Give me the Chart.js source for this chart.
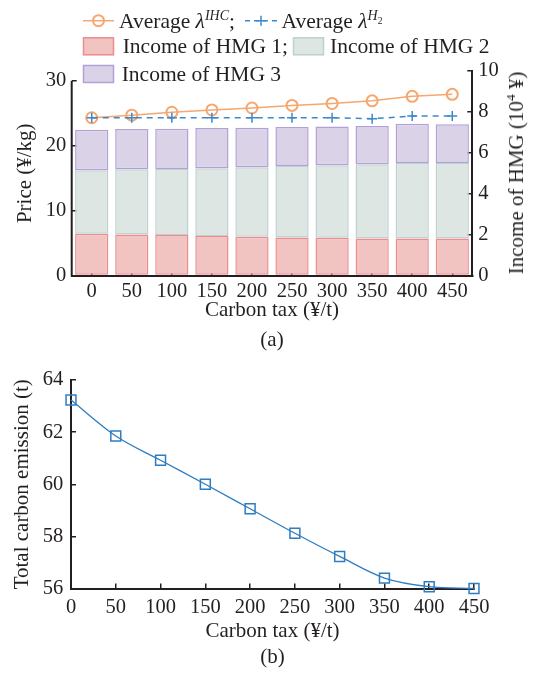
<!DOCTYPE html>
<html>
<head>
<meta charset="utf-8">
<script src="https://cdn.jsdelivr.net/npm/chart.js@4.4.1/dist/chart.umd.min.js"></script>
<style>
  body { margin: 0; background: #fff; font-family: "Liberation Serif", "Times New Roman", serif; color: #231f20; }
  #wrap { position: relative; width: 539px; height: 675px; overflow: hidden; }
  canvas { position: absolute; left: 0; }
  #priceChart { top: 0; }
  #emissionChart { top: 355px; }
  .lg { position: absolute; font-size: 21.5px; line-height: 24px; white-space: nowrap; }
  .lg sup { font-size: 14px; vertical-align: 8px; line-height: 0; }
  .lg sup sub { font-size: 9.5px; vertical-align: -4px; }
  #incomeTitle { position: absolute; left: 516px; top: 173px; font-size: 21px; line-height: 24px; white-space: nowrap;
    transform: translate(-50%, -50%) rotate(-90deg); }
  #incomeTitle sup { font-size: 13.5px; vertical-align: 8px; line-height: 0; }
  #legendMarks { position: absolute; left: 0; top: 0; }
</style>
</head>
<body>
<div id="wrap">
  <canvas id="priceChart" width="539" height="355"></canvas>
  <canvas id="emissionChart" width="539" height="320"></canvas>
  <svg id="legendMarks" width="539" height="90"></svg>
  <div class="lg" style="left:119px;top:8.7px">Average <i>λ</i><sup><i>IHC</i></sup>;</div>
  <div class="lg" style="left:281.6px;top:8.7px">Average <i>λ</i><sup><i>H</i><sub>2</sub></sup></div>
  <div class="lg" style="left:122.7px;top:34.3px">Income of HMG 1;</div>
  <div class="lg" style="left:330px;top:34.3px">Income of HMG 2</div>
  <div class="lg" style="left:121.7px;top:62px">Income of HMG 3</div>
  <div id="incomeTitle">Income of HMG (10<sup>4</sup> ¥)</div>
</div>
<script>
// carbon tax levels (¥/t)
const taxLevels = [0, 50, 100, 150, 200, 250, 300, 350, 400, 450];

// average prices (¥/kg)
const avgPriceIHC = [24.3, 24.7, 25.15, 25.5, 25.8, 26.2, 26.5, 26.9, 27.6, 27.9];
const avgPriceH2 = [24.3, 24.3, 24.3, 24.3, 24.3, 24.3, 24.3, 24.15, 24.55, 24.55];

// HMG incomes (10^4 ¥), stacked
const incomeHMG1 = [2.04, 2.01, 1.98, 1.93, 1.89, 1.86, 1.85, 1.81, 1.81, 1.81];
const incomeHMG2 = [3.11, 3.19, 3.23, 3.31, 3.40, 3.50, 3.54, 3.63, 3.69, 3.69];
const incomeHMG3 = [1.98, 1.96, 1.97, 1.97, 1.94, 1.90, 1.90, 1.87, 1.92, 1.89];

// total carbon emission (t)
const totalEmission = [63.23, 61.85, 60.92, 60.0, 59.06, 58.12, 57.23, 56.4, 56.07, 56.0];

const priceTicks = [0, 10, 20, 30];
const incomeTicks = [0, 2, 4, 6, 8, 10];
const emissionTicks = [56, 58, 60, 62, 64];

const ink = '#231f20';
const serif = 'Liberation Serif';
const orange = '#f6a66f';
const blue = '#3d88cc';
const hmgFill = ['#f2c4c1', '#dde6e3', '#dad3e8'];
const hmgEdge = ['#eb8d8f', '#bdd1d1', '#b3a0d6'];

const tickFont = { family: serif, size: 20.5 };
const titleFont = { family: serif, size: 21 };

function fixedTicks(values) {
  return scale => { scale.ticks = values.map(v => ({ value: v })); };
}

function inwardGrid() {
  return { drawOnChartArea: false, tickLength: -5, color: ink, lineWidth: 1.5 };
}

// legend swatches
const marks = document.getElementById('legendMarks');
marks.innerHTML = `
  <line x1="83" y1="20.7" x2="114" y2="20.7" stroke="${orange}" stroke-width="1.5"/>
  <circle cx="98.5" cy="20.7" r="5.5" fill="none" stroke="${orange}" stroke-width="2"/>
  <line x1="245" y1="20.7" x2="277" y2="20.7" stroke="${blue}" stroke-width="1.5" stroke-dasharray="5 4"/>
  <path d="M256 20.7h10M261 15.7v10" stroke="${blue}" stroke-width="1.5"/>
  <rect x="83.5" y="37.8" width="30" height="17" fill="${hmgFill[0]}" stroke="${hmgEdge[0]}" stroke-width="1.5"/>
  <rect x="293.5" y="37.8" width="30" height="17" fill="${hmgFill[1]}" stroke="${hmgEdge[1]}" stroke-width="1.5"/>
  <rect x="83.5" y="65.5" width="30" height="17" fill="${hmgFill[2]}" stroke="${hmgEdge[2]}" stroke-width="1.5"/>`;

// price axis line only runs up to the last labelled tick
const priceAxisLine = {
  id: 'priceAxisLine',
  afterDraw(chart) {
    const s = chart.scales.y;
    const ctx = chart.ctx;
    ctx.save();
    ctx.strokeStyle = ink;
    ctx.lineWidth = 2;
    ctx.beginPath();
    ctx.moveTo(s.right, s.getPixelForValue(0) + 1);
    ctx.lineTo(s.right, s.getPixelForValue(30));
    ctx.stroke();
    ctx.restore();
  }
};

function hmgBar(label, data, i) {
  return {
    type: 'bar', label, data, yAxisID: 'y1', order: 2,
    backgroundColor: hmgFill[i], borderColor: hmgEdge[i], borderWidth: 1.5,
    borderSkipped: false, barPercentage: 0.83, categoryPercentage: 1
  };
}

new Chart(document.getElementById('priceChart'), {
  data: {
    labels: taxLevels.map(String),
    datasets: [
      {
        type: 'line', label: 'Average λIHC', data: avgPriceIHC, yAxisID: 'y', order: 1,
        borderColor: orange, borderWidth: 1.5, pointStyle: 'circle', pointRadius: 5.5,
        pointBorderWidth: 2, pointBackgroundColor: 'rgba(0,0,0,0)', clip: false
      },
      {
        type: 'line', label: 'Average λH2', data: avgPriceH2, yAxisID: 'y', order: 0,
        borderColor: blue, borderWidth: 1.5, borderDash: [6, 5], pointStyle: 'cross',
        pointRadius: 5, pointBorderWidth: 1.5, clip: false
      },
      hmgBar('Income of HMG 1', incomeHMG1, 0),
      hmgBar('Income of HMG 2', incomeHMG2, 1),
      hmgBar('Income of HMG 3', incomeHMG3, 2)
    ]
  },
  options: {
    responsive: false,
    animation: false,
    layout: { padding: { top: 71 } },
    plugins: { legend: { display: false }, tooltip: { enabled: false } },
    scales: {
      x: {
        stacked: true,
        grid: { ...inwardGrid(), offset: false },
        border: { color: ink, width: 2 },
        ticks: { color: ink, font: tickFont, padding: 8.5, maxRotation: 0, autoSkip: false },
        title: {
          display: true, text: ['Carbon tax (¥/t)', '(a)'], color: ink,
          font: { ...titleFont, lineHeight: 1.4 }, padding: { top: 0, bottom: 0 }
        },
        afterFit(s) { s.height = 79.5; }
      },
      y: {
        position: 'left', min: 0, max: 31.5,
        afterBuildTicks: fixedTicks(priceTicks),
        grid: inwardGrid(),
        border: { display: false },
        ticks: { color: ink, font: tickFont, padding: 10.5 },
        title: { display: true, text: 'Price (¥/kg)', color: ink, font: titleFont, padding: { top: 13, bottom: 0 } },
        afterFit(s) { s.width = 71.7; }
      },
      y1: {
        position: 'right', stacked: true, min: 0, max: 10,
        afterBuildTicks: fixedTicks(incomeTicks),
        grid: inwardGrid(),
        border: { color: ink, width: 2 },
        ticks: { color: ink, font: tickFont, padding: 11 },
        afterFit(s) { s.width = 66.7; }
      }
    }
  },
  plugins: [priceAxisLine]
});

new Chart(document.getElementById('emissionChart'), {
  type: 'line',
  data: {
    datasets: [{
      label: 'Total carbon emission',
      data: taxLevels.map((t, i) => ({ x: t, y: totalEmission[i] })),
      borderColor: '#2f7dc1', borderWidth: 1.3,
      pointStyle: 'rect', pointRadius: 7, pointBorderWidth: 1.5,
      pointBackgroundColor: 'rgba(0,0,0,0)', pointBorderColor: '#2f7dc1',
      cubicInterpolationMode: 'monotone', clip: false
    }]
  },
  options: {
    responsive: false,
    animation: false,
    layout: { padding: { top: 15.7, right: 65 } },
    plugins: { legend: { display: false }, tooltip: { enabled: false } },
    scales: {
      x: {
        type: 'linear', min: 0, max: 450,
        afterBuildTicks: fixedTicks(taxLevels),
        grid: inwardGrid(),
        border: { color: ink, width: 2 },
        ticks: { color: ink, font: tickFont, padding: 11.8 },
        title: {
          display: true, text: ['Carbon tax (¥/t)', '(b)'], color: ink,
          font: { ...titleFont, lineHeight: 1.22 }, padding: { top: 0, bottom: 4.9 }
        },
        afterFit(s) { s.height = 86.5; }
      },
      y: {
        min: 56, max: 64,
        afterBuildTicks: fixedTicks(emissionTicks),
        grid: inwardGrid(),
        border: { color: ink, width: 2 },
        ticks: { color: ink, font: tickFont, padding: 12.7 },
        title: { display: true, text: 'Total carbon emission (t)', color: ink, font: titleFont, padding: { top: 10, bottom: 0 } },
        afterFit(s) { s.width = 71; }
      }
    }
  }
});
</script>
</body>
</html>
